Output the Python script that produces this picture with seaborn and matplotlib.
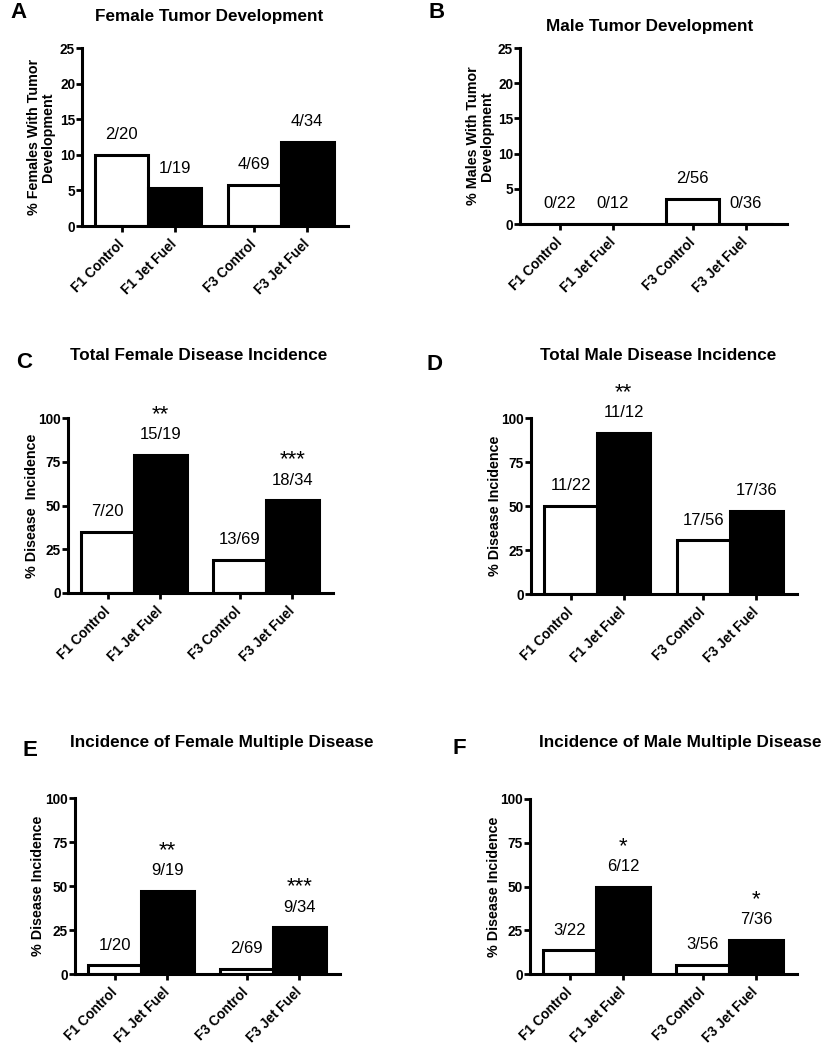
import matplotlib
matplotlib.use("Agg")
import matplotlib.pyplot as plt
import seaborn as sns
import pandas as pd

# groups on the x axis
categories = ["F1 Control", "F1 Jet Fuel", "F3 Control", "F3 Jet Fuel"]
treatment = ["Control", "Jet Fuel", "Control", "Jet Fuel"]

# % incidence
female_tumor = [10.0, 5.3, 5.8, 11.8]
male_tumor = [0.0, 0.0, 3.6, 0.0]
female_disease = [35.0, 78.9, 18.8, 52.9]
male_disease = [50.0, 91.7, 30.4, 47.2]
female_multi = [5.0, 47.4, 2.9, 26.5]
male_multi = [13.6, 50.0, 5.4, 19.4]

# counts printed over the bars
female_tumor_n = ["2/20", "1/19", "4/69", "4/34"]
male_tumor_n = ["0/22", "0/12", "2/56", "0/36"]
female_disease_n = ["7/20", "15/19", "13/69", "18/34"]
male_disease_n = ["11/22", "11/12", "17/56", "17/36"]
female_multi_n = ["1/20", "9/19", "2/69", "9/34"]
male_multi_n = ["3/22", "6/12", "3/56", "7/36"]

# significance marks
female_tumor_sig = ["", "", "", ""]
male_tumor_sig = ["", "", "", ""]
female_disease_sig = ["", "**", "", "***"]
male_disease_sig = ["", "**", "", ""]
female_multi_sig = ["", "**", "", "***"]
male_multi_sig = ["", "*", "", "*"]

tumor_ticks = [0, 5, 10, 15, 20, 25]
disease_ticks = [0, 25, 50, 75, 100]

sns.set_style("ticks")
plt.rcParams["font.family"] = ["Liberation Sans", "DejaVu Sans"]
for k in ["text.color", "axes.labelcolor", "xtick.color", "ytick.color", "axes.edgecolor"]:
    plt.rcParams[k] = "black"

W, H = 825, 1050
fig = plt.figure(figsize=(W / 100, H / 100), dpi=100)

# bar slots: two pairs with a gap between F1 and F3
x_pos = [0, 1, 2.5, 3.5]
pal = {"Control": "white", "Jet Fuel": "black"}

# letter, title, ylabel, values, counts, sig, yticks,
# axes box (x0, x1, ytop, ybottom) in px, letter xy, title xy, ylabel right edge
panels = [
    ("A", "Female Tumor Development", "% Females With Tumor\nDevelopment",
     female_tumor, female_tumor_n, female_tumor_sig, tumor_ticks,
     (82, 348, 48, 226), (10, 13), (209, 16), 55),
    ("B", "Male Tumor Development", "% Males With Tumor\nDevelopment",
     male_tumor, male_tumor_n, male_tumor_sig, tumor_ticks,
     (520, 787, 48, 224), (428, 13), (650, 26), 494),
    ("C", "Total Female Disease Incidence", "% Disease  Incidence",
     female_disease, female_disease_n, female_disease_sig, disease_ticks,
     (68, 333, 418, 593), (16, 363), (199, 355), 39),
    ("D", "Total Male Disease Incidence", "% Disease Incidence",
     male_disease, male_disease_n, male_disease_sig, disease_ticks,
     (531, 797, 418, 594), (427, 364), (658, 355), 502),
    ("E", "Incidence of Female Multiple Disease", "% Disease Incidence",
     female_multi, female_multi_n, female_multi_sig, disease_ticks,
     (75, 340, 798, 974), (23, 750), (222, 742), 45),
    ("F", "Incidence of Male Multiple Disease", "% Disease Incidence",
     male_multi, male_multi_n, male_multi_sig, disease_ticks,
     (530, 797, 799, 974), (452, 748), (680, 742), 501),
]

for (letter, title, ylab, vals, counts, sig, yt,
     box, lxy, txy, ylx) in panels:
    x0, x1, yt_px, yb_px = box
    ax = fig.add_axes([x0 / W, 1 - yb_px / H, (x1 - x0) / W, (yb_px - yt_px) / H])

    df = pd.DataFrame({"pos": x_pos, "pct": vals, "treatment": treatment})
    sns.barplot(data=df, x="pos", y="pct", hue="treatment", palette=pal,
                native_scale=True, dodge=False, width=1.0, errorbar=None,
                edgecolor="black", linewidth=2.2, legend=False, ax=ax)

    ax.set_xlim(-0.75, 4.27)
    ax.set_ylim(0, yt[-1])
    ax.set_xticks(x_pos)
    ax.set_xticklabels(categories, rotation=45, ha="right", va="center",
                       rotation_mode="anchor", fontsize=9.8, fontweight="bold")
    ax.set_yticks(yt)
    ax.set_yticklabels([str(t) for t in yt], fontsize=9.8, fontweight="bold")
    ax.tick_params(axis="y", direction="out", length=4, width=2, pad=1)
    ax.tick_params(axis="x", direction="out", length=4.5, width=2, pad=7)
    sns.despine(ax=ax)
    for s in ["left", "bottom"]:
        ax.spines[s].set_linewidth(2.2)
    ax.set_xlabel("")
    ax.set_ylabel(ylab, fontsize=10.3, fontweight="bold", linespacing=1.0)
    ax.yaxis.set_label_coords((ylx - x0) / (x1 - x0), 0.5)

    for p, v, c, s in zip(x_pos, vals, counts, sig):
        ax.annotate(c, (p, v), xytext=(0, 14.5), textcoords="offset points",
                    ha="center", va="center", fontsize=12, annotation_clip=False)
        if s:
            ax.annotate(s, (p, v), xytext=(0, 29), textcoords="offset points",
                        ha="center", va="center", fontsize=16, annotation_clip=False)

    fig.text(lxy[0] / W, 1 - lxy[1] / H, letter, fontsize=16, fontweight="bold",
             ha="left", va="center")
    fig.text(txy[0] / W, 1 - txy[1] / H, title, fontsize=12.3, fontweight="bold",
             ha="center", va="center")

fig.savefig("out.png", dpi=100, facecolor="white")
